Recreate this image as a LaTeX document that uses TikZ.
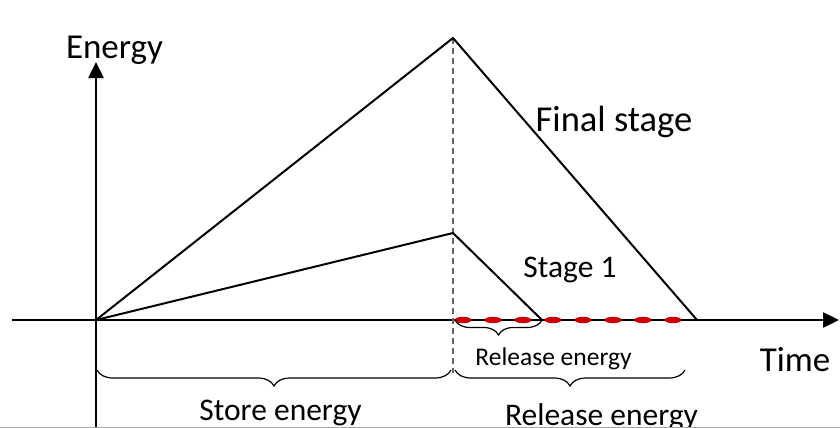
\documentclass[tikz,border=0pt]{standalone}
\usepackage{fontspec}
\setmainfont{Carlito}
\usetikzlibrary{arrows.meta,decorations.pathreplacing}
\tikzset{
  curve/.style={line width=2pt},
  axisline/.style={line width=2.5pt,-{Triangle[length=16pt,width=15pt]}},
  bigtxt/.style={font=\fontsize{35}{40}\selectfont, anchor=base, inner sep=0pt},
  midtxt/.style={font=\fontsize{31.5}{36}\selectfont, anchor=base, inner sep=0pt},
  smalltxt/.style={font=\fontsize{25.5}{30}\selectfont, anchor=base, inner sep=0pt},
  bracebox/.style={decorate,decoration={brace,mirror,amplitude=#1},line width=1.2pt},
  bracebox/.default=16pt,
  reddash/.style={fill=red!80!black},
}
\begin{document}
\begin{tikzpicture}[x=1pt,y=-1pt]
  \useasboundingbox (0,0) rectangle (840,428);
  \coordinate (O) at (96,320);
  \coordinate (peakF) at (453,38);
  \coordinate (peakS) at (453,233);
  \coordinate (endS) at (542,320);
  \coordinate (endF) at (697,320);
  \coordinate (xstart) at (12,320);
  \coordinate (xend) at (839,320);
  \coordinate (ystart) at (96,428);
  \coordinate (yend) at (96,62);
  \coordinate (cut) at (453,373);
  % labels
  \node[bigtxt] (energy) at (114.5,59) {Energy};
  \node[bigtxt, font=\fontsize{36.5}{40}\selectfont] (final) at (614,131) {Final stage};
  \node[midtxt] (stage) at (570,277) {Stage 1};
  \node[bigtxt] (time) at (795,371) {Time};
  \node[smalltxt] (relsmall) at (553.5,365) {Release energy};
  \node[midtxt] (store) at (280.5,420) {Store energy};
  \node[midtxt] (relbig) at (601.5,425) {Release energy};
  % axes
  \draw[axisline] (xstart) -- (xend);
  \draw[axisline] (ystart) -- (yend);
  \draw[gray!70, line width=1pt] (0,427) -- (840,427);
  % stages
  \draw[black!60, line width=1.2pt, dash pattern=on 6pt off 4pt] (peakF) -- (cut);
  \draw[curve] (O) -- (peakF) -- (endF);
  \draw[curve] (O) -- (peakS) -- (endS);
  \foreach \i in {0,...,7}
    \fill[reddash] (463+30*\i,320) ellipse [x radius=8.5, y radius=3.2];
  % braces
  \draw[bracebox=15pt] (455,320) -- (endS);
  \draw[bracebox] (97,370) -- (451,370);
  \draw[bracebox] (455,370) -- (685,370);
\end{tikzpicture}
\end{document}
